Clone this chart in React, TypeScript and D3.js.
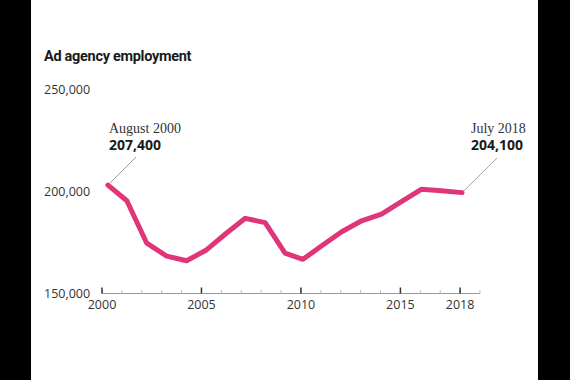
import React from "react";
import * as d3 from "d3";

const years = [2000.3, 2001.25, 2002.25, 2003.25, 2004.25, 2005.25, 2006.25, 2007.2, 2008.2, 2009.2, 2010.1, 2011.1, 2012.05, 2013.05, 2014.05, 2015.05, 2016.05, 2017.05, 2018.1];
const employment = [202900, 195200, 174400, 168100, 165800, 171100, 179300, 186600, 184500, 169500, 166500, 173500, 180000, 185400, 188700, 194800, 200800, 200100, 199200];
const yTicks = [150000, 200000, 250000];
const xMajorTicks = [2000, 2005, 2010, 2015, 2018];
const xMinorTicks = d3.range(2000, 2020);
const title = "Ad agency employment";
const startLabel = "August 2000";
const startValue = "207,400";
const endLabel = "July 2018";
const endValue = "204,100";

export default function App() {
  const W = 570, H = 380;
  const x = d3.scaleLinear().domain([2000, 2019]).range([102, 480]);
  const y = d3.scaleLinear().domain([150000, 250000]).range([293, 89]);
  const line = d3.line<number>().x((_, i) => x(years[i])).y((d) => y(d));
  const fmt = d3.format(",");
  const sans = "'Open Sans', 'Liberation Sans', sans-serif";
  const first = [x(years[0]), y(employment[0])];
  const last = [x(years[years.length - 1]), y(employment[employment.length - 1])];
  return (
    <svg width={W} height={H} style={{ position: "absolute", left: 0, top: 0 }}>
      <rect x={0} y={0} width={W} height={H} fill="#000" />
      <rect x={31} y={0} width={507} height={H} fill="#fff" />
      <text x={44} y={61} fontFamily="Roboto, sans-serif" fontWeight={700} fontSize={14.5} fill="#1a1a1a" letterSpacing={-0.3}>{title}</text>
      {yTicks.map((t) => (
        <text key={t} x={44} y={y(t) + 5} fontFamily={sans} fontSize={12.5} fill="#333">{fmt(t)}</text>
      ))}
      <line x1={x(2000)} x2={x(2019)} y1={293.5} y2={293.5} stroke="#999" strokeWidth={1} />
      {xMinorTicks.map((t) => (
        <line key={t} x1={x(t)} x2={x(t)} y1={290} y2={293.5} stroke="#bbb" strokeWidth={1} />
      ))}
      {xMajorTicks.map((t) => (
        <g key={t}>
          <line x1={x(t)} x2={x(t)} y1={287.5} y2={293.5} stroke="#333" strokeWidth={1.5} />
          <text x={x(t)} y={309} textAnchor="middle" fontFamily={sans} fontSize={12.5} fill="#333">{t}</text>
        </g>
      ))}
      <line x1={first[0]} y1={first[1]} x2={136} y2={157} stroke="#888" strokeWidth={0.8} />
      <line x1={last[0]} y1={last[1]} x2={497} y2={158} stroke="#888" strokeWidth={0.8} />
      <path d={line(employment) || ""} fill="none" stroke="#e0357a" strokeWidth={5} strokeLinejoin="round" strokeLinecap="round" />
      <text x={109} y={133} fontFamily="'Liberation Serif', serif" fontSize={14} fill="#333">{startLabel}</text>
      <text x={109} y={150} fontFamily={sans} fontWeight={700} fontSize={14} fill="#1a1a1a">{startValue}</text>
      <text x={471} y={133} fontFamily="'Liberation Serif', serif" fontSize={14} fill="#333">{endLabel}</text>
      <text x={471} y={150} fontFamily={sans} fontWeight={700} fontSize={14} fill="#1a1a1a">{endValue}</text>
    </svg>
  );
}
